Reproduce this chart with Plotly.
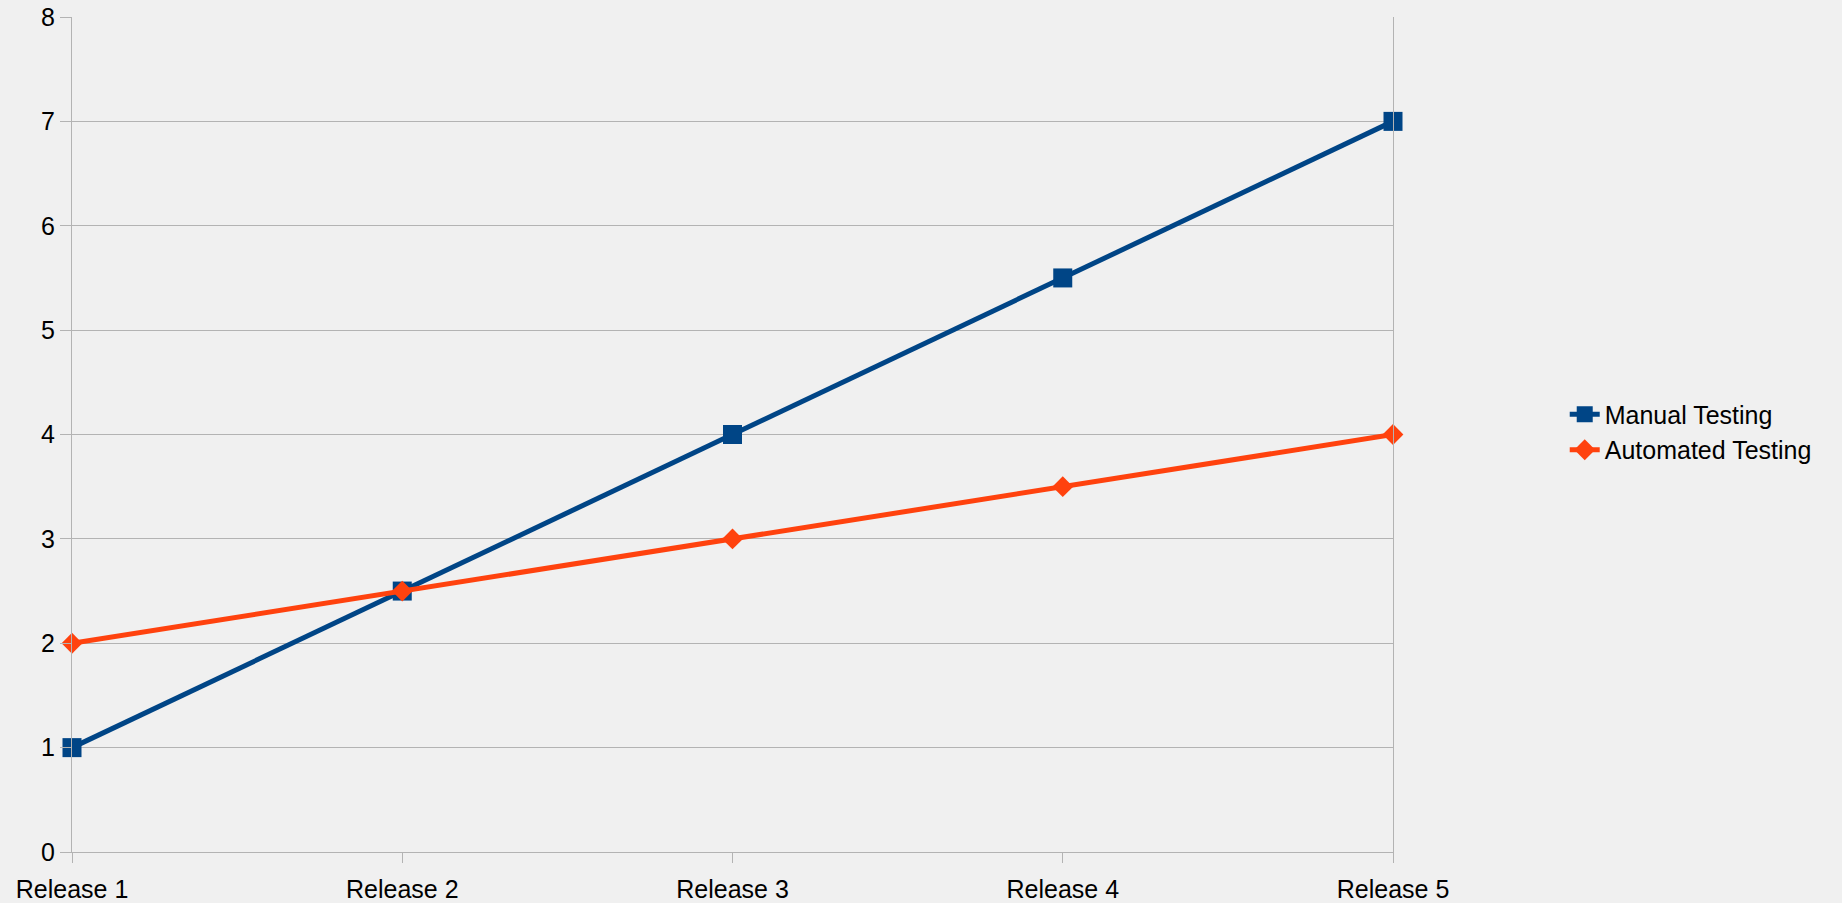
import plotly.graph_objects as go

categories = ["Release 1", "Release 2", "Release 3", "Release 4", "Release 5"]
manual = [1, 2.5, 4, 5.5, 7]
automated = [2, 2.5, 3, 3.5, 4]

BG = "#f0f0f0"
GRID = "#b3b3b3"

fig = go.Figure()
fig.add_trace(go.Scatter(
    x=categories, y=manual, name="Manual Testing", mode="lines+markers",
    line=dict(color="#004586", width=5), cliponaxis=False,
    marker=dict(symbol="square", size=19, color="#004586"),
))
fig.add_trace(go.Scatter(
    x=categories, y=automated, name="Automated Testing", mode="lines+markers",
    line=dict(color="#ff420e", width=5), cliponaxis=False,
    marker=dict(symbol="diamond", size=16, color="#ff420e"),
))

fig.update_layout(
    width=1842, height=903,
    paper_bgcolor=BG, plot_bgcolor=BG,
    margin=dict(l=72, r=449, t=17, b=51),
    font=dict(family="Liberation Sans, Arial, sans-serif", size=25, color="#000000"),
    showlegend=True,
    legend=dict(x=1.13, y=0.503, xanchor="left", yanchor="middle",
                bgcolor="rgba(0,0,0,0)", font=dict(size=25), tracegroupgap=0),
    xaxis=dict(
        type="category", range=[0, 4], showgrid=False, automargin=False,
        showline=True, linecolor=GRID, linewidth=1, ticklabelstandoff=5,
        ticks="outside", ticklen=10, tickcolor=GRID, zeroline=False,
    ),
    yaxis=dict(
        range=[0, 8], dtick=1, showgrid=True, gridcolor=GRID, gridwidth=1,
        showline=True, linecolor=GRID, linewidth=1, mirror=True, automargin=False,
        ticks="outside", ticklen=11, tickcolor=GRID, zeroline=False,
    ),
)

fig.write_html(
    "out.html",
    config={"displayModeBar": False},
    post_script="document.body.style.margin='0';document.body.style.background='#f0f0f0';document.body.style.overflow='hidden';",
)
